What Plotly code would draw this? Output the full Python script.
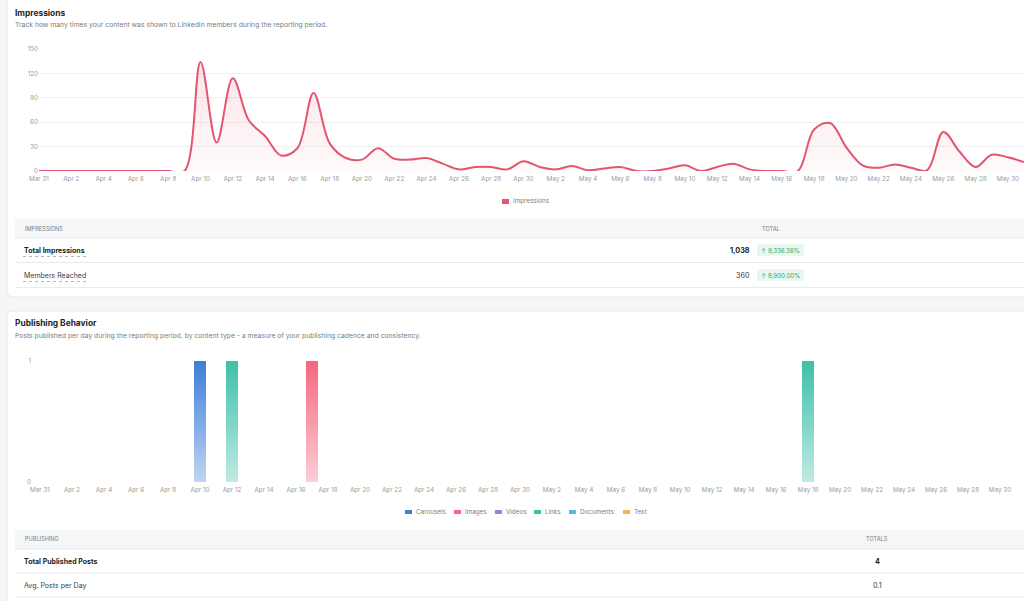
import plotly.graph_objects as go

W, H = 1024, 601

# ---------------- data ----------------
dates = ["Mar 31",
         "Apr 1", "Apr 2", "Apr 3", "Apr 4", "Apr 5", "Apr 6", "Apr 7", "Apr 8", "Apr 9", "Apr 10",
         "Apr 11", "Apr 12", "Apr 13", "Apr 14", "Apr 15", "Apr 16", "Apr 17", "Apr 18", "Apr 19", "Apr 20",
         "Apr 21", "Apr 22", "Apr 23", "Apr 24", "Apr 25", "Apr 26", "Apr 27", "Apr 28", "Apr 29", "Apr 30",
         "May 1", "May 2", "May 3", "May 4", "May 5", "May 6", "May 7", "May 8", "May 9", "May 10",
         "May 11", "May 12", "May 13", "May 14", "May 15", "May 16", "May 17", "May 18", "May 19", "May 20",
         "May 21", "May 22", "May 23", "May 24", "May 25", "May 26", "May 27", "May 28", "May 29", "May 30",
         "May 31"]

impressions = [0, 0, 0, 0, 0, 0, 0, 0, 0, 0, 134,
               35, 114, 62, 43, 19, 28, 96, 34, 16, 14,
               28, 15, 14, 16, 9, 2, 5, 5, 2, 12,
               5, 2, 6, 1, 3, 5, 0, 0, 3, 7,
               0, 5, 9, 2, 0, 0, 0, 51, 59, 29,
               7, 4, 8, 4, 1, 48, 24, 5, 20, 17,
               11]

carousels = [0, 0, 0, 0, 0, 0, 0, 0, 0, 0, 1,
             0, 0, 0, 0, 0, 0, 0, 0, 0, 0,
             0, 0, 0, 0, 0, 0, 0, 0, 0, 0,
             0, 0, 0, 0, 0, 0, 0, 0, 0, 0,
             0, 0, 0, 0, 0, 0, 0, 0, 0, 0,
             0, 0, 0, 0, 0, 0, 0, 0, 0, 0,
             0]
images = [0, 0, 0, 0, 0, 0, 0, 0, 0, 0, 0,
          0, 0, 0, 0, 0, 0, 1, 0, 0, 0,
          0, 0, 0, 0, 0, 0, 0, 0, 0, 0,
          0, 0, 0, 0, 0, 0, 0, 0, 0, 0,
          0, 0, 0, 0, 0, 0, 0, 0, 0, 0,
          0, 0, 0, 0, 0, 0, 0, 0, 0, 0,
          0]
videos = [0, 0, 0, 0, 0, 0, 0, 0, 0, 0, 0,
          0, 0, 0, 0, 0, 0, 0, 0, 0, 0,
          0, 0, 0, 0, 0, 0, 0, 0, 0, 0,
          0, 0, 0, 0, 0, 0, 0, 0, 0, 0,
          0, 0, 0, 0, 0, 0, 0, 0, 0, 0,
          0, 0, 0, 0, 0, 0, 0, 0, 0, 0,
          0]
links = [0, 0, 0, 0, 0, 0, 0, 0, 0, 0, 0,
         0, 1, 0, 0, 0, 0, 0, 0, 0, 0,
         0, 0, 0, 0, 0, 0, 0, 0, 0, 0,
         0, 0, 0, 0, 0, 0, 0, 0, 0, 0,
         0, 0, 0, 0, 0, 0, 0, 1, 0, 0,
         0, 0, 0, 0, 0, 0, 0, 0, 0, 0,
         0]
documents = [0, 0, 0, 0, 0, 0, 0, 0, 0, 0, 0,
             0, 0, 0, 0, 0, 0, 0, 0, 0, 0,
             0, 0, 0, 0, 0, 0, 0, 0, 0, 0,
             0, 0, 0, 0, 0, 0, 0, 0, 0, 0,
             0, 0, 0, 0, 0, 0, 0, 0, 0, 0,
             0, 0, 0, 0, 0, 0, 0, 0, 0, 0,
             0]
text_posts = [0, 0, 0, 0, 0, 0, 0, 0, 0, 0, 0,
              0, 0, 0, 0, 0, 0, 0, 0, 0, 0,
              0, 0, 0, 0, 0, 0, 0, 0, 0, 0,
              0, 0, 0, 0, 0, 0, 0, 0, 0, 0,
              0, 0, 0, 0, 0, 0, 0, 0, 0, 0,
              0, 0, 0, 0, 0, 0, 0, 0, 0, 0,
              0]

series_names = ["Carousels", "Images", "Videos", "Links", "Documents", "Text"]
series_values = [carousels, images, videos, links, documents, text_posts]
series_colors = ["#3b7dd8", "#f4677f", "#9b82e8", "#3dbfa9", "#4cc3d9", "#f4b350"]

impr_y_ticks = [0, 30, 60, 90, 120, 150]
x_tick_labels = dates[::2]

impr_table = [("Total Impressions", "1,038", "↑ 9,336.36%", True),
              ("Members Reached", "360", "↑ 8,900.00%", False)]
pub_table = [("Total Published Posts", "4", True),
             ("Avg. Posts per Day", "0.1", False)]

# ---------------- helpers ----------------
def X(px):
    return px / W


def Y(py):
    return 1 - py / H


def hex_rgb(h):
    h = h.lstrip("#")
    return tuple(int(h[i:i + 2], 16) for i in (0, 2, 4))


def blend(h, a):
    r, g, b = hex_rgb(h)
    return "rgb(%d,%d,%d)" % (round(r * a + 255 * (1 - a)), round(g * a + 255 * (1 - a)), round(b * a + 255 * (1 - a)))


FONT = "Inter"
LINE = "#e4556f"
TICK_COLOR = "#9a9ca0"
GRID = "#eff0f2"
SUB = "#7a7c80"

fig = go.Figure()

# ---------------- impressions line ----------------
fig.add_trace(go.Scatter(
    x=dates, y=impressions, mode="lines",
    line=dict(color=LINE, width=2, shape="spline", smoothing=1),
    fill="tozeroy",
    fillgradient=dict(type="vertical", start=0, stop=140,
                      colorscale=[[0, "rgba(228,85,111,0.03)"], [1, "rgba(228,85,111,0.16)"]]),
    xaxis="x", yaxis="y", hoverinfo="skip", cliponaxis=True,
))

# ---------------- publishing bars (vertical gradient by stacked slices) ----------------
N = 30
for name, vals, col in zip(series_names, series_values, series_colors):
    for k in range(N):
        a = 0.32 + 0.68 * (k + 0.5) / N
        fig.add_trace(go.Bar(
            x=dates, y=[v / N for v in vals],
            marker=dict(color=blend(col, a), line=dict(width=0)),
            xaxis="x2", yaxis="y2", hoverinfo="skip", name=name,
        ))

axis_font = dict(family=FONT, size=6.3, color=TICK_COLOR)

fig.update_layout(
    width=W, height=H,
    margin=dict(l=0, r=0, t=0, b=0, autoexpand=False),
    paper_bgcolor="#f4f5f7",
    plot_bgcolor="rgba(0,0,0,0)",
    showlegend=False,
    barmode="stack",
    bargap=0.25,
    font=dict(family=FONT),
    xaxis=dict(domain=[X(39), 1], range=[0, 61], type="category",
               tickvals=x_tick_labels, ticktext=x_tick_labels, automargin=False,
               showgrid=False, zeroline=False, showline=False, ticks="", ticklabelstandoff=3,
               tickfont=axis_font, tickangle=0, anchor="y", fixedrange=True),
    yaxis=dict(domain=[Y(171), Y(49)], range=[0, 150], tickvals=impr_y_ticks, automargin=False,
               showgrid=True, gridcolor=GRID, gridwidth=1, zeroline=False,
               showline=False, ticks="", tickfont=axis_font, anchor="x", fixedrange=True),
    xaxis2=dict(domain=[X(32), 1], range=[-0.5, 61.5], type="category",
                tickvals=x_tick_labels, ticktext=x_tick_labels, automargin=False,
                showgrid=False, zeroline=False, showline=False, ticks="", ticklabelstandoff=3,
                tickfont=axis_font, tickangle=0, anchor="y2", fixedrange=True),
    yaxis2=dict(domain=[Y(482), Y(361)], range=[0, 1], tickvals=[0, 1], automargin=False,
                showgrid=True, gridcolor=GRID, gridwidth=1, zeroline=False,
                showline=False, ticks="", tickfont=axis_font, anchor="x2", fixedrange=True),
)

shapes = []
annotations = []


def card_path(x0, y0, x1, y1, r):
    p = ("M %f,%f L %f,%f Q %f,%f %f,%f L %f,%f Q %f,%f %f,%f L %f,%f Q %f,%f %f,%f L %f,%f Q %f,%f %f,%f Z" % (
        X(x0 + r), Y(y0), X(x1 - r), Y(y0), X(x1), Y(y0), X(x1), Y(y0 + r),
        X(x1), Y(y1 - r), X(x1), Y(y1), X(x1 - r), Y(y1),
        X(x0 + r), Y(y1), X(x0), Y(y1), X(x0), Y(y1 - r),
        X(x0), Y(y0 + r), X(x0), Y(y0), X(x0 + r), Y(y0)))
    return p


for (y0, y1) in [(-12, 297), (311, 620)]:
    shapes.append(dict(type="path", path=card_path(7, y0, 1040, y1, 6), xref="paper", yref="paper",
                       fillcolor="white", line=dict(color="#e5e7eb", width=1), layer="below"))


def rect(x0, y0, x1, y1, fill, line=None):
    shapes.append(dict(type="rect", xref="paper", yref="paper", x0=X(x0), x1=X(x1), y0=Y(y1), y1=Y(y0),
                       fillcolor=fill, line=dict(width=0) if line is None else line, layer="below"))


def hline(x0, x1, y, color="#e8eaee", dash="solid", width=1):
    shapes.append(dict(type="line", xref="paper", yref="paper", x0=X(x0), x1=X(x1), y0=Y(y), y1=Y(y),
                       line=dict(color=color, width=width, dash=dash), layer="below"))


def text(px, py, s, size=7, color="#374151", anchor="left", bold=False):
    annotations.append(dict(xref="paper", yref="paper", x=X(px), y=Y(py), text=("<b>%s</b>" % s) if bold else s,
                            showarrow=False, xanchor=anchor, yanchor="middle",
                            font=dict(family=FONT, size=size, color=color)))


# titles
text(13, 13, "Impressions", size=8.4, color="#1f2328", bold=True)
text(13, 25, "Track how many times your content was shown to LinkedIn members during the reporting period.",
     size=6.8, color=SUB)
text(13, 323, "Publishing Behavior", size=8.4, color="#1f2328", bold=True)
text(13, 336, "Posts published per day during the reporting period, by content type - a measure of your publishing cadence and consistency.",
     size=6.8, color=SUB)

# legend 1
rect(502, 199, 509, 204, LINE)
text(511, 201.5, "Impressions", size=6.3, color=SUB)

# legend 2
leg_x = [405, 454, 495, 534, 569, 623]
for lx, nm, col in zip(leg_x, series_names, series_colors):
    rect(lx, 510, lx + 7, 514, col)
    text(lx + 9, 512, nm, size=6.3, color=SUB)

# table 1
rect(15, 219, 1030, 238, "#f5f6f8")
hline(15, 1030, 238)
text(23, 228.5, "IMPRESSIONS", size=5.6, color=SUB)
text(771, 228.5, "TOTAL", size=5.6, color=SUB, anchor="center")
row_y = [250, 275]
for (label, val, badge, bold), ry in zip(impr_table, row_y):
    text(22, ry, label, size=7, color="#222" if bold else "#3a3d42", bold=bold)
    uw = 64 if bold else 66
    hline(23, 23 + uw, ry + 6.5, color="#a0a3a8", dash="dot", width=0.8)
    text(752, ry, val, size=7.2, color="#222" if bold else "#3a3d42", anchor="right", bold=bold)
    rect(757, ry - 6, 804, ry + 6, "#e8f8ee")
    text(780.5, ry, badge, size=6.2, color="#2fa866", anchor="center")
    hline(15, 1030, ry + 12.5)

# table 2
rect(15, 530, 1030, 549, "#f5f6f8")
hline(15, 1030, 549)
text(23, 538.5, "PUBLISHING", size=5.6, color=SUB)
text(877, 538.5, "TOTALS", size=5.6, color=SUB, anchor="center")
for (label, val, bold), ry in zip(pub_table, [561, 585]):
    text(22, ry, label, size=7, color="#222" if bold else "#3a3d42", bold=bold)
    text(877, ry, val, size=7.2, color="#222" if bold else "#3a3d42", anchor="center", bold=bold)
    hline(15, 1030, ry + 12)

fig.update_layout(shapes=shapes, annotations=annotations)
fig.write_html("out.html", config={"displayModeBar": False})
